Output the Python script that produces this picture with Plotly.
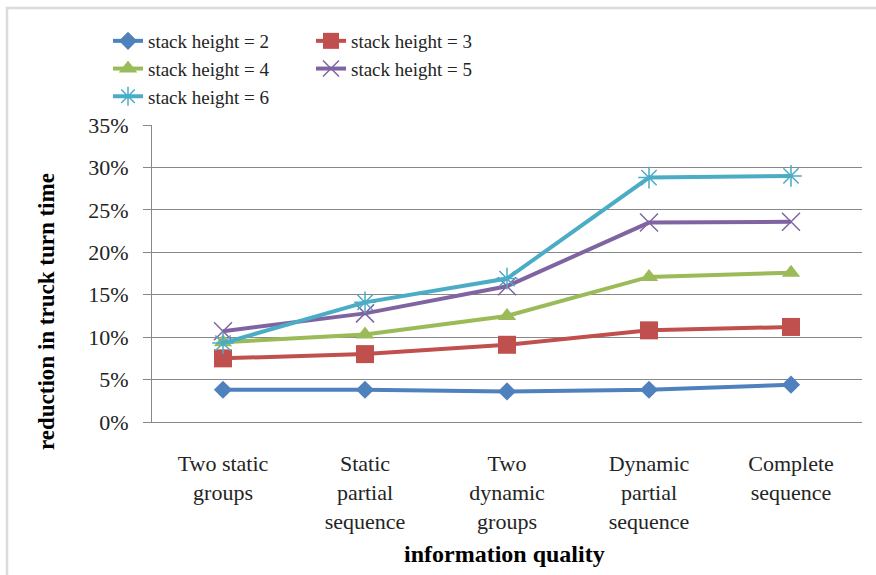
import plotly.graph_objects as go

categories = [
    "Two static<br>groups",
    "Static<br>partial<br>sequence",
    "Two<br>dynamic<br>groups",
    "Dynamic<br>partial<br>sequence",
    "Complete<br>sequence",
]
height_2 = [0.038, 0.038, 0.036, 0.038, 0.044]
height_3 = [0.075, 0.080, 0.091, 0.108, 0.112]
height_4 = [0.094, 0.103, 0.125, 0.171, 0.176]
height_5 = [0.107, 0.128, 0.160, 0.235, 0.236]
height_6 = [0.093, 0.141, 0.169, 0.288, 0.290]
y_ticks = [0, 0.05, 0.10, 0.15, 0.20, 0.25, 0.30, 0.35]
y_tick_text = ["0%", "5%", "10%", "15%", "20%", "25%", "30%", "35%"]

FONT = "Liberation Serif"
W, H = 876, 575
L, R, T, B = 152, 14, 125, 153
PW, PH = W - L - R, H - T - B


def px_x(px):
    return (px - L) / PW


def px_y(py):
    return (H - B - py) / PH


series = [
    ("stack height = 2", height_2, "#4F81BD", "diamond", 14, "legend"),
    ("stack height = 3", height_3, "#C0504D", "square", 18, "legend2"),
    ("stack height = 4", height_4, "#9BBB59", "triangle-up", 16, "legend"),
    ("stack height = 5", height_5, "#8064A2", "x-thin-open", 18, "legend2"),
    ("stack height = 6", height_6, "#4BACC6", "asterisk-open", 18, "legend"),
]

fig = go.Figure()
for name, vals, color, symbol, size, leg in series:
    open_marker = symbol.endswith("open")
    fig.add_trace(go.Scatter(
        x=categories, y=vals, name=name, mode="lines+markers",
        line=dict(color=color, width=4),
        marker=dict(symbol=symbol, size=size, color=color,
                    line=dict(color=color, width=1.5 if open_marker else 0)),
        legend=leg,
    ))

legend_style = dict(
    font=dict(family=FONT, size=19),
    bgcolor="rgba(0,0,0,0)", orientation="v",
    xanchor="left", yanchor="top", tracegroupgap=0,
    itemwidth=30,
)

fig.update_layout(
    template="simple_white",
    width=W, height=H,
    margin=dict(l=L, r=R, t=T, b=B),
    paper_bgcolor="white", plot_bgcolor="white",
    showlegend=True,
    legend=dict(x=px_x(108), y=px_y(22), **legend_style),
    legend2=dict(x=px_x(311), y=px_y(22), **legend_style),
    xaxis=dict(
        type="category", range=[-0.5, 4.5],
        showline=True, linecolor="#888888", linewidth=1, mirror=False,
        showgrid=False, ticks="", zeroline=False,
        tickfont=dict(family=FONT, size=22),
        ticklabelstandoff=22,
    ),
    yaxis=dict(
        range=[0, 0.35], tickvals=y_ticks, ticktext=y_tick_text,
        showline=True, linecolor="#888888", linewidth=1, mirror=False,
        showgrid=True, gridcolor="#888888", gridwidth=1,
        ticks="outside", ticklen=8, tickcolor="#888888", tickwidth=1,
        zeroline=False,
        tickfont=dict(family=FONT, size=22),
        ticklabelstandoff=10,
    ),
    shapes=[
        dict(type="rect", xref="paper", yref="paper",
             x0=px_x(7), x1=px_x(W + 20), y0=px_y(H + 20), y1=px_y(8),
             line=dict(color="#8c8c8c", width=2.5), fillcolor="rgba(0,0,0,0)",
             layer="below"),
    ],
    annotations=[
        dict(text="<b>reduction in truck turn time</b>", xref="paper", yref="paper",
             x=px_x(46), y=px_y(312), textangle=-90, showarrow=False,
             font=dict(family=FONT, size=23, color="black"),
             xanchor="center", yanchor="middle"),
        dict(text="<b>information quality</b>", xref="paper", yref="paper",
             x=px_x(504), y=px_y(554), showarrow=False,
             font=dict(family=FONT, size=24, color="black"),
             xanchor="center", yanchor="middle"),
    ],
)

fig.write_html("out.html")
